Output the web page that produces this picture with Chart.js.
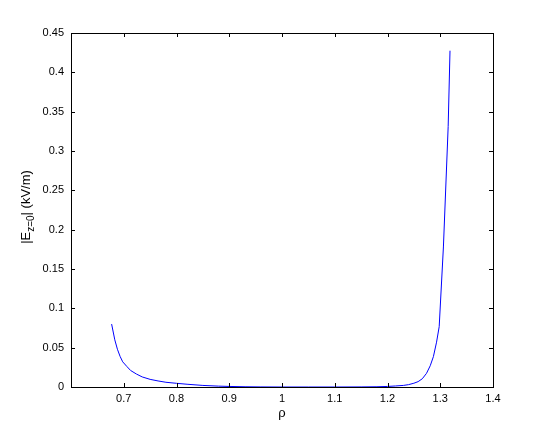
<!DOCTYPE html>
<html>
<head>
<meta charset="utf-8">
<script src="https://cdn.jsdelivr.net/npm/chart.js@4.4.1/dist/chart.umd.min.js"></script>
<style>
  html, body { margin: 0; padding: 0; background: #fff; }
  #wrap { width: 545px; height: 436px; }
</style>
</head>
<body>
<div id="wrap"><canvas id="fieldChart"></canvas></div>
<script>
// values
const rho = [0.677, 0.683, 0.688, 0.693, 0.698, 0.706, 0.713, 0.724, 0.735, 0.75, 0.765, 0.78, 0.8, 0.82, 0.85, 0.88, 0.9, 0.93, 0.96, 1.0, 1.05, 1.1, 1.15, 1.18, 1.2, 1.215, 1.23, 1.24, 1.25, 1.258, 1.266, 1.274, 1.281, 1.287, 1.293, 1.298, 1.306, 1.315, 1.3185];
const eField = [0.080, 0.060, 0.048, 0.039, 0.032, 0.026, 0.021, 0.0165, 0.0128, 0.0097, 0.0077, 0.006, 0.0047, 0.0035, 0.002, 0.0011, 0.0007, 0.0003, 0.0001, 0.0, 0.0, 0.0, 0.0001, 0.0003, 0.0007, 0.0013, 0.002, 0.003, 0.0048, 0.0068, 0.0105, 0.0174, 0.027, 0.0386, 0.057, 0.0767, 0.178, 0.331, 0.4275];

const xMin = 0.6, xMax = 1.4, xStep = 0.1;
const yMin = 0, yMax = 0.45, yStep = 0.05;

const tickFont = { family: "'Liberation Sans', Arial, sans-serif", size: 11 };

function fmt(v) {
  return String(Number(v.toFixed(2)));
}

// box with inward ticks on all four sides, plus the y title with its subscript
const matlabBox = {
  id: 'matlabBox',
  afterDraw(chart) {
    const ctx = chart.ctx;
    const a = chart.chartArea;
    const xs = chart.scales.x, ys = chart.scales.y;
    ctx.save();
    ctx.strokeStyle = '#000';
    ctx.lineWidth = 1;
    ctx.strokeRect(Math.round(a.left) + 0.5, Math.round(a.top) + 0.5,
      Math.round(a.right - a.left), Math.round(a.bottom - a.top));
    ctx.beginPath();
    xs.ticks.forEach(t => {
      const px = Math.round(xs.getPixelForValue(t.value)) + 0.5;
      ctx.moveTo(px, a.bottom); ctx.lineTo(px, a.bottom - 4);
      ctx.moveTo(px, a.top); ctx.lineTo(px, a.top + 4);
    });
    ys.ticks.forEach(t => {
      const py = Math.round(ys.getPixelForValue(t.value)) + 0.5;
      ctx.moveTo(a.left, py); ctx.lineTo(a.left + 4, py);
      ctx.moveTo(a.right, py); ctx.lineTo(a.right - 4, py);
    });
    ctx.stroke();

    // y title: |E_{z=0}| (kV/m)
    const big = "13px 'Liberation Sans', Arial, sans-serif";
    const small = "10px 'Liberation Sans', Arial, sans-serif";
    const parts = [['|E', big, 0], ['z=0', small, 4], ['| (kV/m)', big, 0]];
    let total = 0;
    parts.forEach(p => { ctx.font = p[1]; total += ctx.measureText(p[0]).width; });
    ctx.translate(29.5, 207);
    ctx.rotate(-Math.PI / 2);
    ctx.fillStyle = '#000';
    ctx.textBaseline = 'alphabetic';
    let x = -total / 2;
    parts.forEach(p => {
      ctx.font = p[1];
      ctx.fillText(p[0], x, p[2]);
      x += ctx.measureText(p[0]).width;
    });
    ctx.restore();
  }
};

new Chart(document.getElementById('fieldChart'), {
  type: 'line',
  data: {
    datasets: [{
      data: rho.map((r, i) => ({ x: r, y: eField[i] })),
      borderColor: '#0000ff',
      borderWidth: 1,
      pointRadius: 0,
      tension: 0,
      fill: false
    }]
  },
  options: {
    responsive: true,
    maintainAspectRatio: false,
    animation: false,
    layout: { padding: { left: 0, top: 33, right: 52, bottom: 0 } },
    plugins: { legend: { display: false }, tooltip: { enabled: false } },
    scales: {
      x: {
        type: 'linear',
        min: xMin, max: xMax,
        grid: { display: false, drawTicks: false },
        border: { display: false },
        ticks: {
          stepSize: xStep,
          padding: 5,
          color: '#000',
          font: tickFont,
          maxRotation: 0,
          callback: v => Math.abs(v - xMin) < 1e-9 ? '' : fmt(v)
        },
        title: {
          display: true,
          text: 'ρ',
          color: '#000',
          font: { family: "'Liberation Sans', Arial, sans-serif", size: 13 },
          padding: { top: 2, bottom: 15 }
        },
        afterFit: s => { s.height = 49; }
      },
      y: {
        min: yMin, max: yMax,
        grid: { display: false, drawTicks: false },
        border: { display: false },
        ticks: {
          stepSize: yStep,
          padding: 7,
          color: '#000',
          font: tickFont,
          callback: v => fmt(v)
        },
        afterFit: s => { s.width = 71; }
      }
    }
  },
  plugins: [matlabBox]
});
</script>
</body>
</html>
